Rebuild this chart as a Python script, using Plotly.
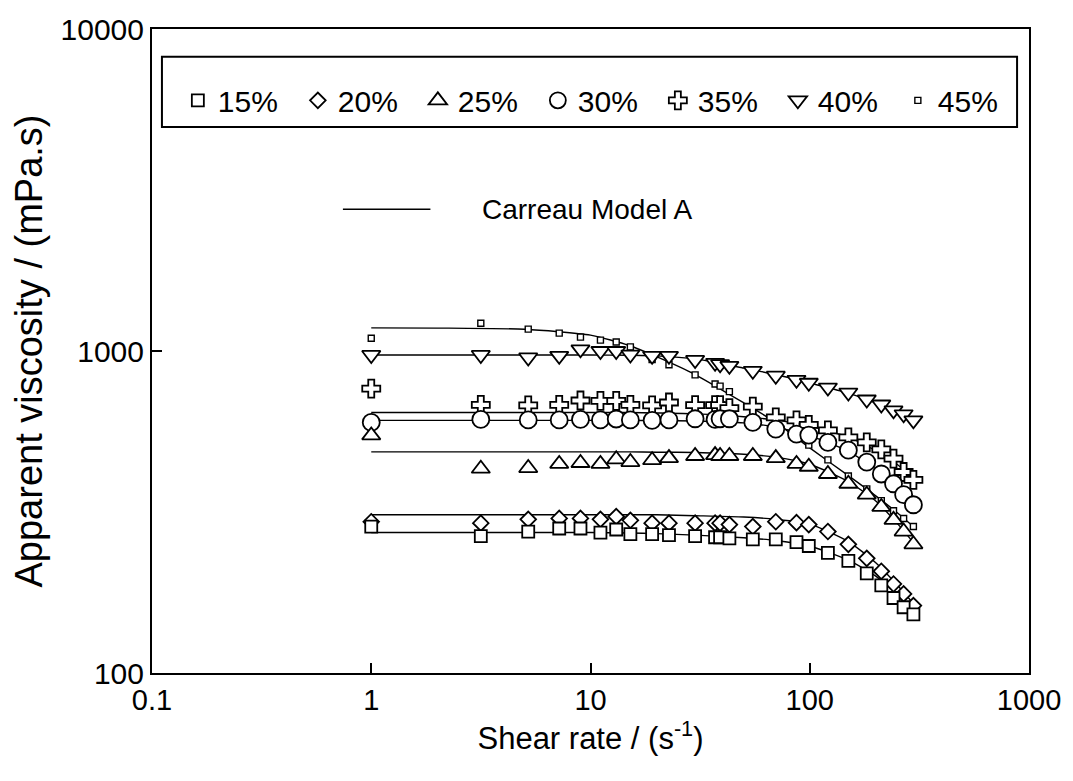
import plotly.graph_objects as go

# ---------------- data ----------------
shear_rate = [1, 3.16, 5.2, 7.2, 9.0, 11.1, 13.1, 15.2, 19.1, 22.8, 30, 37, 39, 43,
              55, 70, 87, 99, 121, 150, 182, 212, 241, 268, 297]

visc_15 = [285, 266, 275, 281, 281, 273, 279, 270, 270, 268, 266, 264, 264, 262,
           260, 260, 255, 248, 236, 223, 204, 187, 171, 160, 152]
visc_20 = [295, 292, 300, 302, 302, 300, 306, 298, 292, 292, 292, 292, 292, 289,
           285, 295, 293, 289, 275, 251, 227, 207, 189, 176, 162]
visc_25 = [547, 431, 433, 446, 449, 446, 461, 452, 458, 465, 472, 475, 472, 472,
           472, 465, 446, 437, 415, 387, 358, 328, 299, 275, 251]
visc_30 = [600, 613, 611, 611, 613, 611, 615, 611, 609, 611, 616, 613, 616, 616,
           600, 572, 552, 548, 520, 492, 452, 415, 387, 358, 333]
visc_35 = [764, 680, 678, 680, 702, 700, 700, 680, 678, 692, 679, 679, 679, 665,
           672, 622, 609, 590, 567, 539, 520, 495, 463, 421, 398]
visc_40 = [972, 972, 955, 966, 1012, 1000, 1000, 975, 966, 966, 938, 919, 910, 899,
           868, 838, 814, 797, 770, 743, 707, 682, 654, 636, 609]
visc_45 = [1096, 1220, 1169, 1136, 1104, 1081, 1066, 1030, 940, 906, 843, 790, 778, 748,
           682, 606, 548, 510, 459, 409, 373, 343, 319, 302, 285]

# Carreau model A curves
model_rate = [1, 2, 5, 10, 15, 20, 30, 50, 70, 100, 150, 200, 250, 300]
model_15 = [273, 273, 273, 273, 272, 271, 268, 263, 258, 248, 224, 200, 176, 151]
model_20 = [310, 310, 310, 310, 310, 310, 308, 305, 300, 290, 256, 220, 188, 163]
model_25 = [486, 486, 486, 486, 486, 485, 484, 478, 468, 445, 393, 342, 292, 252]
model_30 = [609, 609, 609, 609, 609, 608, 606, 598, 580, 545, 488, 430, 378, 330]
model_35 = [644, 644, 644, 644, 644, 642, 638, 625, 610, 585, 540, 490, 445, 400]
model_40 = [972, 972, 972, 972, 970, 966, 945, 885, 845, 795, 740, 690, 645, 609]
model_45 = [1180, 1178, 1168, 1120, 1040, 960, 845, 690, 600, 500, 410, 355, 315, 283]

labels = ["15%", "20%", "25%", "30%", "35%", "40%", "45%"]
x_tick_vals = [0.1, 1, 10, 100, 1000]
x_tick_text = ["0.1", "1", "10", "100", "1000"]
y_tick_vals = [100, 1000, 10000]
y_tick_text = ["100", "1000", "10000"]

# ---------------- styling ----------------
FONT = "Liberation Sans, Arial, Helvetica, sans-serif"
series = [
    (labels[0], visc_15, model_15, "square", 12),
    (labels[1], visc_20, model_20, "diamond", 12),
    (labels[2], visc_25, model_25, "triangle-up", 16),
    (labels[3], visc_30, model_30, "circle", 17),
    (labels[4], visc_35, model_35, "cross", 15),
    (labels[5], visc_40, model_40, "triangle-down", 16),
    (labels[6], visc_45, model_45, "square", 6),
]

fig = go.Figure()

# model lines underneath
for name, _, model, _, _ in series:
    fig.add_trace(go.Scatter(
        x=model_rate, y=model, mode="lines",
        line=dict(color="black", width=1.4, shape="spline", smoothing=0.6),
        showlegend=False, hoverinfo="skip"))

# markers, drawn from 45% down to 15% so the lower series sit on top
for rank, (name, vals, _, sym, size) in reversed(list(enumerate(series))):
    fig.add_trace(go.Scatter(
        x=shear_rate, y=vals, mode="markers", name=name,
        legendrank=rank + 1,
        marker=dict(symbol=sym, size=size, color="white",
                    line=dict(color="black", width=1.8 if size > 8 else 1.4))))

# plot area in px: x 152..1034, y 23..673
PL, PR, PT, PB = 152, 1034, 23, 673
W, H = 1073, 781

def px_x(p):
    return (p - PL) / (PR - PL)

def px_y(p):
    return (PB - p) / (PB - PT)

CARREAU_Y = 205

shapes = [
    # legend box
    dict(type="rect", xref="paper", yref="paper",
         x0=px_x(162), x1=px_x(1022), y0=px_y(122), y1=px_y(51),
         line=dict(color="black", width=2), fillcolor="rgba(0,0,0,0)"),
    # Carreau model key line
    dict(type="line", xref="paper", yref="paper",
         x0=px_x(344), x1=px_x(432), y0=px_y(CARREAU_Y), y1=px_y(CARREAU_Y),
         line=dict(color="black", width=1.4)),
]

annotations = [
    dict(text="Carreau Model A", xref="paper", yref="paper",
         x=px_x(482), y=px_y(CARREAU_Y), xanchor="left", yanchor="middle",
         showarrow=False, font=dict(family=FONT, size=28, color="black")),
]

fig.update_layout(
    width=W, height=H,
    margin=dict(l=PL, r=W - PR, t=PT, b=H - PB),
    paper_bgcolor="white", plot_bgcolor="white",
    font=dict(family=FONT, color="black"),
    shapes=shapes, annotations=annotations,
    showlegend=True,
    legend=dict(orientation="h", x=px_x(178), xanchor="left",
                y=px_y(95), yanchor="middle",
                bgcolor="rgba(0,0,0,0)", borderwidth=0,
                font=dict(family=FONT, size=30, color="black"),
                itemsizing="trace", entrywidth=75, entrywidthmode="pixels",
                traceorder="normal"),
    xaxis=dict(type="log", range=[-1, 3], tickvals=x_tick_vals, ticktext=x_tick_text,
               ticks="inside", ticklen=10, tickwidth=1.5, tickcolor="black",
               showline=True, linecolor="black", linewidth=2, mirror=True,
               showgrid=False, zeroline=False,
               tickfont=dict(family=FONT, size=29),
               title=dict(text="Shear rate / (s<sup>-1</sup>)", standoff=12,
                          font=dict(family=FONT, size=31))),
    yaxis=dict(type="log", range=[2, 4], tickvals=y_tick_vals, ticktext=y_tick_text,
               ticks="inside", ticklen=10, tickwidth=1.5, tickcolor="black",
               showline=True, linecolor="black", linewidth=2, mirror=True,
               showgrid=False, zeroline=False,
               tickfont=dict(family=FONT, size=30),
               title=dict(text="Apparent viscosity / (mPa.s)", standoff=6,
                          font=dict(family=FONT, size=38))),
)

fig.write_html("out.html")
